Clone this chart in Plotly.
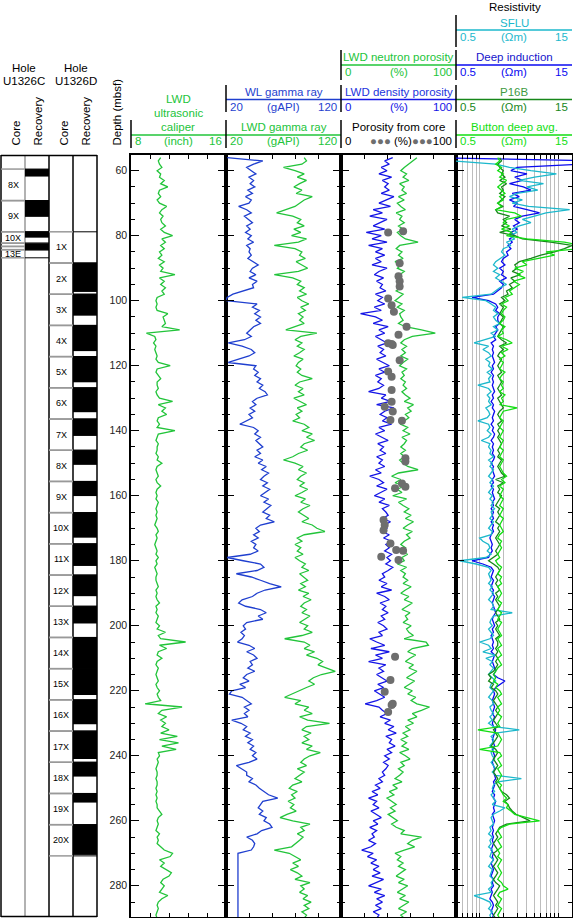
import math
import plotly.graph_objects as go

W, H = 573, 918
FONT = "Liberation Sans, Arial, Helvetica, sans-serif"

# ---------------- data (depth in mbsf, 1 m sampling) ----------------
depth = list(range(56, 291))

caliper = [
    10.5, 10.3, 10.4, 10.6, 10.2, 10.5, 10.4, 10.8, 10.5, 11.1,
    10.4, 10.3, 10.5, 10.2, 10.4, 11.0, 10.6, 10.4, 10.7, 10.5,
    10.6, 10.9, 10.5, 10.8, 11.5, 10.6, 10.9, 10.5, 10.8, 10.4,
    10.6, 10.3, 10.8, 10.4, 10.7, 10.5, 11.7, 10.4, 10.8, 10.5,
    10.9, 10.6, 10.8, 10.2, 10.1, 10.2, 10.1, 10.2, 11.1, 10.7,
    10.8, 10.9, 10.6, 12.1, 9.3, 10.0, 10.1, 9.9, 10.1, 10.0,
    10.1, 10.2, 10.1, 10.3, 11.3, 10.2, 10.1, 10.3, 10.5, 10.2,
    10.2, 10.3, 10.1, 10.2, 10.4, 11.5, 10.3, 10.9, 10.6, 11.0,
    10.3, 10.2, 10.4, 10.2, 11.7, 10.3, 10.2, 10.1, 10.3, 10.2,
    10.2, 10.1, 10.3, 10.2, 10.6, 10.2, 10.1, 10.2, 10.3, 10.1,
    10.2, 10.5, 10.2, 10.1, 10.2, 10.1, 10.3, 10.2, 10.1, 10.2,
    10.1, 10.2, 10.1, 10.0, 10.2, 10.3, 10.1, 10.2, 10.1, 10.0,
    10.1, 10.2, 10.1, 10.3, 10.1, 10.2, 10.0, 10.1, 10.2, 10.1,
    10.1, 10.2, 10.3, 10.1, 10.2, 10.1, 10.2, 10.4, 10.1, 10.2,
    10.1, 10.3, 10.2, 10.1, 10.4, 10.2, 10.9, 10.3, 10.5, 12.6,
    10.4, 11.0, 10.3, 10.2, 10.6, 10.2, 10.1, 10.3, 10.2, 10.1,
    10.2, 10.3, 10.1, 10.2, 10.4, 10.2, 10.3, 10.5, 9.2, 12.3,
    10.6, 10.3, 11.0, 10.5, 10.9, 10.6, 11.2, 10.5, 11.9, 10.4,
    12.0, 10.6, 11.8, 10.3, 10.4, 10.2, 10.3, 10.2, 10.1, 10.2,
    10.2, 10.1, 10.2, 10.2, 10.1, 10.2, 10.1, 10.2, 10.1, 10.2,
    10.2, 10.4, 10.6, 10.3, 10.2, 10.3, 10.2, 10.1, 10.4, 10.2,
    10.3, 10.2, 10.5, 10.8, 11.5, 11.3, 10.4, 10.8, 10.5, 10.9,
    11.4, 11.2, 10.7, 10.5, 10.8, 10.6, 10.4, 11.1, 10.6, 10.3,
    10.2, 10.3, 10.2, 10.1, 10.2,
]

wl_gamma = [
    21, 52, 44, 38, 42, 46, 40, 44, 41, 45,
    39, 43, 37, 42, 40, 31, 38, 42, 36, 40,
    43, 38, 41, 37, 42, 39, 44, 38, 41, 40,
    42, 39, 44, 48, 43, 41, 46, 40, 47, 43,
    44, 34, 26, 21, 20, 47, 43, 49, 45, 50,
    46, 50, 44, 41, 38, 42, 36, 22, 34, 42,
    45, 40, 30, 22, 46, 44, 48, 45, 50, 47,
    52, 49, 54, 56, 47, 43, 46, 41, 45, 40,
    43, 38, 32, 44, 48, 45, 50, 46, 49, 52,
    47, 50, 45, 52, 48, 55, 51, 57, 53, 50,
    56, 52, 58, 54, 50, 57, 53, 59, 55, 52,
    58, 55, 62, 50, 46, 49, 44, 48, 42, 46,
    44, 48, 41, 21, 35, 50, 53, 47, 29, 42,
    50, 58, 68, 54, 47, 43, 34, 31, 37, 50,
    55, 48, 52, 38, 35, 37, 33, 36, 34, 30,
    40, 45, 38, 44, 47, 41, 43, 39, 45, 38,
    35, 40, 32, 37, 25, 23, 34, 38, 42, 36,
    40, 36, 39, 25, 33, 38, 35, 41, 37, 43,
    39, 44, 41, 46, 43, 47, 40, 29, 33, 38,
    38, 43, 40, 46, 49, 53, 57, 65, 52, 50,
    48, 52, 49, 55, 53, 58, 60, 51, 47, 38,
    43, 45, 44, 42, 30.4, 30.4, 30.4, 30.4, 30.4, 30.4,
    30.4, 30.4, 30.4, 30.4, 30.4, 30.4, 30.4, 30.4, 30.4, 30.4,
    30.4, 30.4, 30.4, 30.4, 30.4,
]

lwd_gamma = [
    88, 90, 86, 70, 80, 88, 82, 90, 84, 79,
    86, 81, 95, 88, 84, 80, 72, 64, 78, 85,
    82, 88, 79, 85, 77, 90, 83, 62, 80, 86,
    84, 89, 81, 86, 91, 83, 62, 78, 85, 82,
    88, 84, 90, 82, 86, 92, 85, 89, 83, 87,
    84, 88, 80, 72, 99, 85, 80, 86, 82, 88,
    84, 79, 87, 83, 81, 85, 82, 86, 95, 84,
    80, 87, 83, 88, 79, 85, 90, 82, 86, 81,
    84, 78, 88, 92, 86, 95, 90, 97, 88, 85,
    91, 83, 78, 70, 80, 87, 83, 90, 85, 82,
    88, 84, 91, 86, 80, 89, 85, 93, 87, 83,
    88, 92, 86, 95, 99, 106, 88, 82, 86, 80,
    85, 82, 87, 80, 84, 89, 86, 92, 84, 88,
    91, 85, 89, 83, 92, 87, 94, 88, 85, 90,
    86, 93, 89, 84, 91, 88, 95, 86, 71, 88,
    93, 88, 97, 90, 99, 104, 100, 108, 115, 103,
    96, 92, 97, 90, 84, 78, 71, 85, 80, 92,
    88, 95, 84, 91, 110, 90, 86, 94, 88, 92,
    86, 95, 90, 102, 93, 88, 85, 90, 82, 88,
    84, 80, 86, 78, 75, 82, 77, 80, 74, 79,
    76, 81, 73, 67, 78, 93, 85, 88, 82, 87,
    84, 80, 77, 62, 75, 80, 85, 78, 83, 76,
    82, 86, 80, 93, 85, 88, 84, 91, 87, 94,
    88, 92, 86, 90, 88,
]

neutron_por = [
    66, 62, 58, 55, 52, 57, 54, 59, 51, 55,
    53, 57, 50, 55, 49, 52, 56, 48, 53, 51,
    55, 50, 54, 49, 52, 56, 67, 51, 48, 53,
    50, 54, 47, 52, 49, 55, 51, 48, 53, 50,
    52, 48, 54, 50, 47, 53, 49, 55, 51, 52,
    54, 50, 56, 70, 82, 62, 55, 52, 57, 53,
    56, 52, 58, 54, 51, 57, 53, 55, 52, 56,
    54, 57, 53, 56, 60, 55, 63, 58, 61, 56,
    59, 55, 52, 58, 54, 60, 53, 57, 55, 52,
    56, 52, 55, 51, 54, 58, 67, 50, 44, 52,
    47, 55, 49, 53, 45, 57, 50, 54, 59, 55,
    61, 56, 63, 58, 54, 62, 57, 60, 55, 52,
    56, 50, 58, 53, 55, 49, 57, 52, 56, 54,
    58, 54, 61, 56, 52, 59, 55, 62, 57, 53,
    60, 56, 58, 54, 61, 57, 59, 63, 55, 74,
    76, 62, 58, 65, 60, 56, 63, 59, 66, 61,
    57, 64, 60, 55, 62, 58, 65, 61, 66, 77,
    70, 62, 66, 58, 63, 56, 60, 54, 58, 52,
    57, 53, 59, 51, 56, 60, 52, 55, 50, 54,
    51, 47, 53, 45, 49, 42, 46, 40, 44, 48,
    43, 47, 41, 45, 49, 44, 48, 55, 52, 70,
    62, 58, 64, 55, 47, 52, 49, 54, 50, 56,
    52, 48, 55, 50, 58, 53, 49, 56, 51, 59,
    54, 50, 57, 52, 55,
]

density_por = [
    45, 38, 42, 35, 40, 33, 44, 36, 41, 38,
    42, 35, 46, 39, 33, 43, 28, 36, 25, 40,
    34, 28, 38, 22, 35, 27, 40, 24, 36, 30,
    38, 30, 35, 27, 40, 33, 29, 37, 31, 36,
    34, 39, 30, 36, 32, 38, 29, 35, 17, 30,
    36, 28, 41, 33, 38, 30, 35, 40, 32, 37,
    34, 39, 31, 36, 42, 33, 38, 30, 35, 32,
    37, 33, 24, 39, 35, 43, 31, 46, 38, 34,
    40, 36, 44, 33, 38, 30, 35, 41, 32, 37,
    34, 39, 31, 36, 33, 38, 30, 35, 25, 33,
    37, 31, 40, 34, 29, 38, 33, 42, 36, 39,
    41, 36, 43, 38, 40, 35, 42, 37, 44, 39,
    42, 38, 44, 40, 43, 39, 45, 41, 36, 38,
    33, 40, 35, 44, 31, 38, 42, 34, 39, 36,
    41, 35, 38, 32, 37, 40, 33, 36, 25, 31,
    38, 26, 42, 30, 36, 24, 39, 33, 37, 31,
    35, 40, 32, 37, 29, 34, 38, 31, 21, 33,
    36, 40, 34, 43, 38, 46, 41, 48, 39, 44,
    42, 47, 40, 44, 38, 42, 37, 41, 39, 36,
    38, 33, 36, 30, 34, 27, 32, 24, 31, 28,
    33, 26, 30, 35, 28, 32, 25, 31, 27, 29,
    24, 30, 26, 18, 28, 23, 31, 26, 33, 28,
    34, 27, 37, 30, 24, 35, 29, 38, 31, 36,
    30, 35, 28, 33, 31,
]

core_depth = [78.6, 79.0, 88.5, 92.5, 94.0, 95.6, 99.3, 101.4, 103.4, 108.0,
              110.5, 113.1, 113.3, 113.6, 118.3, 121.8, 123.4, 127.5, 131.1, 132.6,
              134.1, 136.7, 136.9, 148.5, 149.5, 156.2, 157.2, 157.7, 167.5, 169.0,
              170.6, 174.7, 176.7, 176.9, 178.8, 179.8, 209.5, 216.7, 220.3, 224.0,
              224.4, 226.5]
core_por = [54, 41, 51, 50, 51, 51, 41, 44, 46, 57,
            50, 41, 44, 45, 51, 41, 44, 44, 44, 38,
            45, 43, 53, 56, 56, 53, 56, 47, 37, 38,
            37, 43, 48, 54, 35, 50, 47, 43, 38, 45,
            44, 41]

sflu = [
    0.4, 0.45, 1.6, 2.4, 4.5, 9.5, 5.0, 3.2, 6.5, 4.0,
    5.5, 3.0, 2.4, 3.5, 2.6, 4.2, 14, 7, 5, 3.5,
    4.5, 3.2, 2.6, 3.0, 2.4, 2.8, 2.2, 2.5, 2.0, 1.9,
    2.1, 1.8, 1.6, 1.5, 1.7, 1.5, 1.8, 1.6, 1.9, 2.2,
    1.8, 1.6, 1.4, 0.6, 1.2, 1.4, 1.6, 1.5, 1.7, 1.5,
    1.6, 1.8, 1.5, 1.7, 1.4, 1.6, 1.2, 0.85, 1.3, 1.1,
    1.3, 1.4, 1.2, 1.35, 1.3, 1.45, 1.25, 1.4, 1.3, 1.35,
    0.95, 1.3, 1.4, 1.25, 1.35, 1.3, 1.4, 1.2, 1.3, 1.35,
    1.25, 0.95, 1.3, 1.35, 1.25, 1.4, 1.3, 1.05, 1.35, 1.3,
    1.4, 1.35, 1.5, 1.3, 1.45, 1.35, 1.5, 1.4, 1.3, 1.45,
    1.35, 1.5, 1.4, 1.3, 1.45, 1.35, 1.5, 1.4, 1.55, 1.4,
    1.45, 1.35, 1.5, 1.4, 1.3, 1.45, 1.4, 1.0, 1.1, 1.3,
    1.35, 1.25, 1.4, 1.2, 0.56, 0.9, 1.3, 1.4, 1.3, 1.35,
    1.4, 1.3, 1.45, 1.35, 1.5, 1.4, 1.3, 1.45, 1.5, 1.4,
    2.6, 1.5, 1.4, 1.35, 1.45, 1.3, 1.4, 1.5, 1.35, 1.0,
    1.3, 1.4, 1.1, 1.6, 1.2, 1.45, 1.35, 1.5, 1.4, 1.3,
    1.45, 1.6, 1.4, 1.35, 1.5, 1.4, 1.3, 1.45, 1.5, 1.35,
    1.4, 1.5, 1.35, 1.45, 1.3, 1.5, 3.2, 1.6, 1.4, 1.5,
    1.45, 1.35, 1.5, 1.4, 1.45, 1.55, 1.4, 1.5, 1.6, 1.45,
    1.6, 3.4, 1.7, 1.5, 1.45, 1.55, 1.4, 1.5, 1.6, 1.45,
    2.1, 1.8, 1.5, 1.4, 1.45, 1.5, 1.35, 1.4, 1.3, 1.45,
    1.35, 1.4, 1.3, 1.45, 1.4, 1.35, 1.5, 1.4, 1.3, 1.45,
    1.4, 1.35, 1.5, 1.4, 1.45, 1.3, 1.4, 0.85, 1.1, 1.35,
    1.4, 1.3, 1.45, 1.35, 1.4,
]

deep_induction = [
    0.3, 30, 20, 3.0, 2.5, 4.0, 2.8, 3.5, 2.4, 3.6,
    4.5, 2.6, 3.2, 2.4, 3.0, 2.7, 4.0, 5.8, 3.5, 2.8,
    3.2, 2.7, 3.0, 2.5, 2.8, 2.4, 2.6, 2.3, 2.5, 2.2,
    2.3, 2.0, 1.9, 2.1, 1.8, 2.0, 1.9, 2.2, 1.8, 2.0,
    1.9, 1.7, 1.5, 0.8, 1.3, 1.6, 1.7, 1.6, 1.8, 1.7,
    1.7, 1.8, 1.6, 1.7, 1.6, 1.5, 1.6, 1.4, 1.5, 1.45,
    1.5, 1.45, 1.5, 1.55, 1.45, 1.5, 1.4, 1.5, 1.45, 1.5,
    1.45, 1.5, 1.55, 1.45, 1.5, 1.4, 1.5, 1.45, 1.55, 1.5,
    1.45, 1.5, 1.4, 1.5, 1.45, 1.55, 1.5, 1.4, 1.5, 1.45,
    1.5, 1.45, 1.55, 1.5, 1.4, 1.5, 1.45, 1.5, 1.55, 1.45,
    1.5, 1.4, 1.5, 1.45, 1.5, 1.55, 1.45, 1.5, 1.4, 1.5,
    1.45, 1.5, 1.4, 1.5, 1.45, 1.5, 1.4, 1.35, 1.4, 1.45,
    1.4, 1.45, 1.35, 1.3, 0.8, 1.1, 1.4, 1.5, 1.45, 1.4,
    1.5, 1.45, 1.4, 1.5, 1.45, 1.55, 1.5, 1.45, 1.5, 1.55,
    1.6, 1.5, 1.45, 1.5, 1.55, 1.45, 1.5, 1.4, 1.45, 1.5,
    1.45, 1.5, 1.4, 1.55, 1.5, 1.45, 1.5, 1.55, 1.6, 1.5,
    1.7, 2.1, 1.8, 1.6, 1.5, 1.55, 1.5, 1.45, 1.5, 1.55,
    1.5, 1.45, 1.55, 1.5, 1.45, 1.5, 1.6, 1.55, 1.5, 1.45,
    1.5, 1.55, 1.45, 1.5, 1.55, 1.5, 1.45, 1.5, 1.55, 1.5,
    1.55, 1.6, 1.5, 1.55, 1.5, 1.45, 1.55, 1.5, 1.6, 1.55,
    1.5, 1.55, 1.45, 1.5, 1.55, 1.5, 1.45, 1.5, 1.45, 1.5,
    1.45, 1.5, 1.45, 1.4, 1.5, 1.45, 1.5, 1.4, 1.45, 1.5,
    1.45, 1.4, 1.5, 1.45, 1.5, 1.4, 1.45, 1.4, 1.35, 1.45,
    1.5, 1.45, 1.4, 1.5, 1.45,
]

p16b = [
    1.8, 1.9, 1.7, 1.8, 2.0, 1.9, 2.1, 1.8, 2.2, 1.9,
    2.0, 1.8, 2.1, 1.9, 1.7, 2.0, 1.6, 1.7, 2.4, 2.0,
    2.2, 1.9, 2.5, 1.8, 2.8, 3.5, 8, 15, 12, 9,
    6, 4.5, 3.2, 2.8, 3.0, 2.6, 3.3, 2.5, 2.8, 2.4,
    2.6, 2.2, 2.3, 1.9, 2.1, 1.8, 2.0, 1.9, 1.8, 2.0,
    1.9, 1.8, 2.0, 1.9, 1.8, 1.7, 1.9, 2.2, 1.8, 2.0,
    1.8, 1.7, 1.9, 1.8, 1.7, 1.8, 1.9, 1.7, 1.8, 1.9,
    1.8, 1.7, 1.8, 1.9, 1.7, 1.8, 1.9, 2.0, 1.8, 1.7,
    1.8, 1.9, 1.7, 1.8, 1.7, 1.8, 1.7, 1.8, 1.9, 1.8,
    1.7, 1.8, 1.7, 1.9, 1.8, 1.7, 1.8, 1.9, 2.1, 1.6,
    2.0, 1.7, 1.8, 1.7, 1.9, 1.8, 1.7, 1.6, 1.8, 1.7,
    1.8, 1.7, 1.6, 1.8, 1.7, 1.8, 1.7, 1.6, 1.7, 1.8,
    1.7, 1.6, 1.7, 1.5, 1.3, 1.5, 1.7, 1.8, 1.7, 1.6,
    1.7, 1.6, 1.7, 1.8, 1.6, 1.7, 1.6, 1.7, 1.8, 1.7,
    1.6, 1.7, 1.8, 1.6, 1.7, 1.6, 1.7, 1.8, 1.6, 1.7,
    1.7, 1.6, 1.7, 1.6, 1.7, 1.6, 1.7, 1.6, 1.5, 1.3,
    1.4, 1.3, 1.5, 1.4, 1.6, 1.7, 1.6, 1.5, 1.6, 1.7,
    1.6, 1.7, 1.6, 1.5, 1.6, 1.7, 1.5, 1.6, 1.7, 1.6,
    1.5, 1.4, 1.6, 1.7, 1.6, 1.5, 1.6, 1.7, 1.6, 1.5,
    1.6, 1.7, 1.6, 1.7, 1.8, 1.9, 2.2, 2.4, 2.1, 2.3,
    2.4, 2.6, 2.9, 3.6, 4.4, 2.2, 1.8, 1.7, 1.6, 1.7,
    1.6, 1.5, 1.6, 1.7, 1.5, 1.6, 1.7, 1.6, 1.5, 1.6,
    1.7, 1.6, 1.5, 1.6, 1.8, 1.7, 1.6, 1.5, 1.6, 1.7,
    1.6, 1.7, 1.6, 1.5, 1.6,
]

button_deep = [
    1.7, 1.8, 1.6, 1.9, 1.7, 2.0, 1.8, 2.2, 1.9, 1.7,
    1.9, 2.1, 1.8, 2.0, 1.7, 1.9, 1.6, 2.8, 3.4, 2.2,
    2.0, 2.4, 1.9, 2.6, 2.2, 4.0, 12, 20, 18, 7,
    9, 5.5, 3.5, 4.0, 2.8, 3.6, 3.0, 3.8, 2.7, 3.2,
    2.8, 2.4, 2.6, 2.1, 2.3, 1.9, 2.2, 2.0, 1.9, 2.1,
    2.0, 1.8, 2.1, 1.9, 2.0, 1.7, 2.2, 2.6, 1.9, 2.3,
    1.9, 2.1, 1.8, 2.0, 1.9, 1.8, 2.1, 1.9, 1.8, 2.0,
    1.9, 2.0, 1.8, 2.1, 1.9, 2.0, 1.8, 3.0, 2.0, 1.9,
    1.8, 2.0, 1.9, 1.8, 2.0, 1.9, 1.8, 2.0, 1.9, 1.8,
    2.0, 1.9, 1.8, 2.0, 1.9, 1.8, 1.9, 2.0, 2.2, 1.9,
    2.1, 1.8, 2.0, 1.9, 1.8, 2.0, 1.9, 1.8, 2.0, 1.9,
    1.8, 2.0, 1.9, 1.8, 1.9, 2.0, 1.8, 1.7, 1.9, 1.8,
    1.9, 1.8, 1.7, 1.8, 1.6, 1.7, 1.9, 1.8, 1.7, 1.9,
    1.8, 1.9, 1.7, 1.8, 1.9, 1.8, 1.7, 1.9, 1.8, 1.7,
    1.9, 1.8, 1.7, 1.9, 1.8, 1.7, 1.8, 1.9, 1.7, 1.8,
    1.9, 1.7, 1.8, 1.9, 1.7, 1.8, 1.9, 1.7, 1.6, 1.5,
    1.6, 1.5, 1.7, 1.6, 1.8, 1.9, 1.7, 1.8, 1.9, 1.7,
    1.8, 1.7, 1.9, 1.8, 1.7, 1.8, 0.95, 1.7, 1.8, 1.9,
    1.8, 1.7, 1.0, 1.8, 1.9, 1.7, 1.8, 1.9, 1.7, 1.8,
    1.9, 1.8, 1.7, 1.9, 1.8, 1.9, 2.0, 2.2, 2.0, 2.3,
    2.2, 2.5, 2.8, 4.0, 5.8, 2.4, 1.9, 1.7, 1.8, 1.9,
    1.7, 1.8, 1.9, 1.7, 1.8, 1.7, 1.9, 1.8, 1.7, 1.8,
    1.9, 1.8, 1.7, 1.9, 2.0, 2.3, 1.8, 1.7, 1.9, 1.8,
    1.7, 1.9, 1.8, 1.7, 1.8,
]

# Core recovery (mbsf)
holeC_names = ["8X", "9X", "10X", "11X", "12X", "13E"]
holeC_top = [59.5, 69.2, 78.8, 82.3, 83.3, 84.3]
holeC_bot = [69.2, 78.8, 82.3, 83.3, 84.3, 86.8]
holeC_rec_top = [59.5, 69.2, 78.8, 82.5, 83.4, 84.3]
holeC_rec_bot = [61.8, 74.2, 80.6, 83.2, 84.2, 84.5]

holeD_names = ["1X", "2X", "3X", "4X", "5X", "6X", "7X", "8X", "9X", "10X",
               "11X", "12X", "13X", "14X", "15X", "16X", "17X", "18X", "19X", "20X"]
holeD_top = [78.8, 88.4, 98.0, 107.6, 117.2, 126.8, 136.4, 146.0, 155.6, 165.2,
             174.8, 184.4, 194.0, 203.6, 213.2, 222.8, 232.4, 242.0, 251.6, 261.2]
holeD_bot = [88.4, 98.0, 107.6, 117.2, 126.8, 136.4, 146.0, 155.6, 165.2, 174.8,
             184.4, 194.0, 203.6, 213.2, 222.8, 232.4, 242.0, 251.6, 261.2, 270.8]
holeD_rec_bot = [78.8, 97.3, 104.6, 115.5, 125.1, 134.3, 141.6, 150.5, 160.1, 172.9,
                 181.6, 190.9, 199.3, 213.2, 221.3, 230.3, 241.0, 246.4, 254.4, 270.5]

res_grid = [0.6, 0.7, 0.8, 0.9, 1, 2, 3, 4, 5, 6, 7, 8, 9, 10]

# ---------------- colours ----------------
C_LWD = "#22c43a"
C_WL = "#1f3fcf"
C_DEN = "#1414e6"
C_DEEP = "#0a0af0"
C_SFLU = "#1cb8cc"
C_P16 = "#17871a"
C_BTN = "#12de12"
C_CORE = "#6e6e6e"


def pair(vals):
    n = min(len(depth), len(vals))
    return vals[:n], depth[:n]


fig = go.Figure()


def add_line(vals, color, xa, ya, width=1.3):
    x, y = pair(vals)
    fig.add_trace(go.Scatter(x=x, y=y, mode="lines", xaxis=xa, yaxis=ya,
                             line=dict(color=color, width=width),
                             hoverinfo="skip", showlegend=False))


add_line(caliper, C_LWD, "x", "y")
add_line(wl_gamma, C_WL, "x2", "y2")
add_line(lwd_gamma, C_LWD, "x2", "y2")
add_line(density_por, C_DEN, "x3", "y3")
add_line(neutron_por, C_LWD, "x3", "y3")
fig.add_trace(go.Scatter(x=core_por, y=core_depth, mode="markers", xaxis="x3", yaxis="y3",
                         marker=dict(color=C_CORE, size=8, line=dict(width=0)),
                         hoverinfo="skip", showlegend=False))
add_line(deep_induction, C_DEEP, "x4", "y4")
add_line(sflu, C_SFLU, "x4", "y4")
add_line(p16b, C_P16, "x4", "y4")
add_line(button_deep, C_BTN, "x4", "y4")

# ---------------- axes ----------------
Y_TOP, Y_BOT = 55.17, 289.6
ydom = [1 - 917 / H, 1 - 155 / H]
tracks = [(131, 226), (226, 341), (341, 456), (456, 572)]

common_y = dict(range=[Y_BOT, Y_TOP], autorange=False, domain=ydom,
                showline=True, linecolor="black", linewidth=1.5, mirror="ticks",
                ticks="inside", ticklen=8, tickwidth=1.2, tickcolor="black",
                tickmode="linear", tick0=0, dtick=20,
                minor=dict(ticks="inside", ticklen=4, tickwidth=1.2, tickcolor="black",
                           tickmode="linear", tick0=0, dtick=5, showgrid=False),
                showgrid=False, zeroline=False)
common_x = dict(side="top", showline=True, linecolor="black", linewidth=1.5,
                mirror="ticks", ticks="inside", ticklen=4, tickwidth=1,
                tickcolor="black", showticklabels=False, showgrid=False, zeroline=False)

layout_axes = {}
for i, (a, b) in enumerate(tracks):
    sx = "" if i == 0 else str(i + 1)
    yax = dict(common_y, anchor="x" + sx)
    if i == 0:
        yax.update(showticklabels=True, tickfont=dict(family=FONT, size=10.5, color="#222"))
    else:
        yax.update(showticklabels=False, matches="y")
    layout_axes["yaxis" + sx] = yax
    xax = dict(common_x, domain=[a / W, b / W], anchor="y" + sx)
    layout_axes["xaxis" + sx] = xax

layout_axes["xaxis"].update(range=[8, 16], tickmode="linear", tick0=8, dtick=1.6)
layout_axes["xaxis2"].update(range=[20, 120], tickmode="linear", tick0=20, dtick=20)
layout_axes["xaxis3"].update(range=[0, 100], tickmode="linear", tick0=0, dtick=20)
layout_axes["xaxis4"].update(type="log", range=[math.log10(0.5), math.log10(15)],
                             tickmode="array", tickvals=res_grid, showgrid=True,
                             gridcolor="#bdbdbd", gridwidth=1)

# ---------------- header annotations and shapes ----------------
ann = []
shapes = []


def txt(s, x, y, color="black", size=11.5, xanchor="center", yanchor="middle", angle=0):
    ann.append(dict(text=s, x=x / W, y=1 - y / H, xref="paper", yref="paper",
                    showarrow=False, font=dict(family=FONT, size=size, color=color),
                    xanchor=xanchor, yanchor=yanchor, textangle=angle,
                    borderpad=0))


def pline(x0, y0, x1, y1, color="black", width=1.5):
    shapes.append(dict(type="line", xref="paper", yref="paper",
                       x0=x0 / W, y0=1 - y0 / H, x1=x1 / W, y1=1 - y1 / H,
                       line=dict(color=color, width=width)))


# core columns header
txt("Hole", 24, 68)
txt("U1326C", 24, 81)
txt("Hole", 76, 68)
txt("U1326D", 76, 81)
for xc, s in [(15, "Core"), (37, "Recovery"), (63, "Core"), (85, "Recovery"), (116, "Depth (mbsf)")]:
    txt(s, xc, 147, angle=-90, yanchor="bottom")

ROWS = {"A": (22.5, 30, 37, 15, 47), "B": (57, 65, 72, 50, 80),
        "C": (92, 99.5, 107, 85, 112), "D": (127, 135, 141, 120, 148)}


def header(track, row, title, color, lo, unit, hi, line=True, tcolor=None):
    a, b = tracks[track]
    ty, ly, sy, v0, v1 = ROWS[row]
    c = (a + b) / 2
    if title:
        txt(title, c, ty, color=tcolor or color)
    if line:
        pline(a, ly, b, ly, color=color, width=1.5)
    pline(a, v0, a, v1, color="black", width=1.5)
    txt(lo, a + 3, sy, color=color, xanchor="left")
    txt(unit, c, sy, color=color)
    txt(hi, b - 3, sy, color=color, xanchor="right")


# caliper
txt("LWD", 178, 99, color=C_LWD)
txt("ultrasonic", 178, 113, color=C_LWD)
txt("caliper", 178, 127, color=C_LWD)
header(0, "D", None, C_LWD, "8", "(inch)", "16")
# gamma
header(1, "C", "WL gamma ray", C_WL, "20", "(gAPI)", "120")
header(1, "D", "LWD gamma ray", C_LWD, "20", "(gAPI)", "120")
# porosity
header(2, "B", "LWD neutron porosity", C_LWD, "0", "(%)", "100")
header(2, "C", "LWD density porosity", C_DEN, "0", "(%)", "100", tcolor="#2233dd")
a, b = tracks[2]
txt("Porosity from core", (a + b) / 2, 127)
pline(a, 120, a, 148)
txt("0", a + 3, 141, xanchor="left")
txt("<span style='color:%s'>●●●</span> (%%)<span style='color:%s'>●●●</span>100" % (C_CORE, C_CORE),
    b - 3, 141, xanchor="right")
# resistivity
txt("Resistivity", 515, 7)
header(3, "A", "SFLU", C_SFLU, "0.5", "(Ωm)", "15")
header(3, "B", "Deep induction", C_DEEP, "0.5", "(Ωm)", "15", tcolor="#1515cc")
header(3, "C", "P16B", C_P16, "0.5", "(Ωm)", "15", tcolor="#3f9a3f")
header(3, "D", "Button deep avg.", C_BTN, "0.5", "(Ωm)", "15")

# ---------------- core columns ----------------
for x in (1, 49, 73, 97):
    pline(x, 155, x, 917, color="black", width=1.5)
pline(25, 155, 25, 917, color="#999999", width=1.5)
pline(1, 155.5, 97, 155.5, color="black", width=1.5)
pline(1, 916.5, 97, 916.5, color="black", width=1.5)


def core_set(names, tops, bots, rtops, rbots, x0, x1, x2):
    for n, t, bt, rt, rb in zip(names, tops, bots, rtops, rbots):
        if rb > rt:
            shapes.append(dict(type="rect", xref="paper", yref="y", x0=x1 / W, x1=x2 / W,
                               y0=rt, y1=rb, fillcolor="black", line=dict(width=0)))
        for d in (t, bt):
            shapes.append(dict(type="line", xref="paper", yref="y", x0=x0 / W, x1=x1 / W,
                               y0=d, y1=d, line=dict(color="#999999", width=1.5)))
            shapes.append(dict(type="line", xref="paper", yref="y", x0=x1 / W, x1=x2 / W,
                               y0=d, y1=d, line=dict(color="black", width=1)))
        if bt - t > 2:
            ann.append(dict(text=n, x=(x0 + x1) / 2 / W, y=(t + bt) / 2, xref="paper", yref="y",
                            xanchor="center", yanchor="middle",
                            showarrow=False, font=dict(family=FONT, size=9, color="black")))


core_set(holeC_names, holeC_top, holeC_bot, holeC_rec_top, holeC_rec_bot, 1, 25, 49)
core_set(holeD_names, holeD_top, holeD_bot, holeD_top, holeD_rec_bot, 49, 73, 97)

fig.update_layout(width=W, height=H, margin=dict(l=0, r=0, t=0, b=0),
                  paper_bgcolor="white", plot_bgcolor="white",
                  showlegend=False, annotations=ann, shapes=shapes,
                  font=dict(family=FONT), **layout_axes)

fig.write_html("out.html", config={"displayModeBar": False},
               post_script="document.body.style.margin='0';document.body.style.padding='0';document.body.style.overflow='hidden';")
